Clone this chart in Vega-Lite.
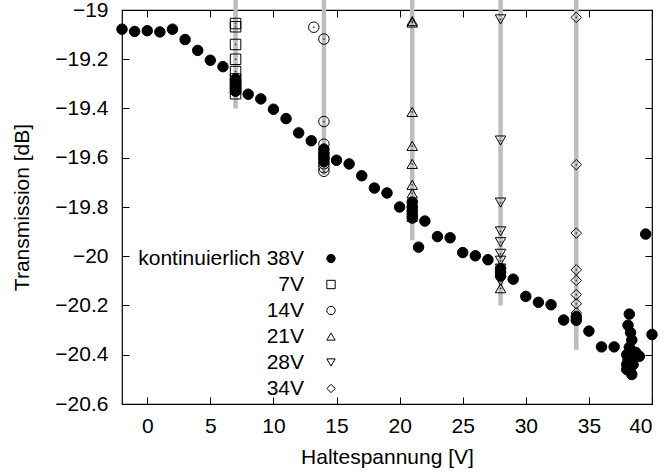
{
  "$schema": "https://vega.github.io/schema/vega-lite/v6.json",
  "width": 530,
  "height": 394,
  "autosize": "none",
  "padding": {"left": 122, "top": 10, "right": 14, "bottom": 72},
  "background": "white",
  "config": {
    "view": {"stroke": "black", "strokeWidth": 1.2},
    "font": "Liberation Sans",
    "axis": {"grid": false, "domain": false, "tickColor": "black", "tickWidth": 1, "labelColor": "black", "titleColor": "black", "labelFontSize": 21, "titleFontSize": 21, "titleFontWeight": "normal", "labelFont": "Liberation Sans", "titleFont": "Liberation Sans"},
    "legend": {"labelLimit": 0}
  },
  "datasets": {
    "bars": [
      {"s": "7V", "x": 7, "y1": -18.95, "y2": -19.40},
      {"s": "14V", "x": 14, "y1": -18.95, "y2": -19.67},
      {"s": "21V", "x": 21, "y1": -18.95, "y2": -19.935},
      {"s": "28V", "x": 28, "y1": -18.95, "y2": -20.2},
      {"s": "34V", "x": 34, "y1": -18.95, "y2": -20.38}
    ],
    "pts": [
      {"s": "kontinuierlich 38V", "x": -2, "y": -19.078},
      {"s": "kontinuierlich 38V", "x": -1, "y": -19.087},
      {"s": "kontinuierlich 38V", "x": 0, "y": -19.084},
      {"s": "kontinuierlich 38V", "x": 1, "y": -19.089},
      {"s": "kontinuierlich 38V", "x": 2, "y": -19.078},
      {"s": "kontinuierlich 38V", "x": 3, "y": -19.12},
      {"s": "kontinuierlich 38V", "x": 4, "y": -19.164},
      {"s": "kontinuierlich 38V", "x": 5, "y": -19.204},
      {"s": "kontinuierlich 38V", "x": 6, "y": -19.23},
      {"s": "kontinuierlich 38V", "x": 7, "y": -19.28},
      {"s": "kontinuierlich 38V", "x": 7, "y": -19.30},
      {"s": "kontinuierlich 38V", "x": 7, "y": -19.315},
      {"s": "kontinuierlich 38V", "x": 7, "y": -19.33},
      {"s": "kontinuierlich 38V", "x": 8, "y": -19.342},
      {"s": "kontinuierlich 38V", "x": 9, "y": -19.361},
      {"s": "kontinuierlich 38V", "x": 10, "y": -19.403},
      {"s": "kontinuierlich 38V", "x": 11, "y": -19.441},
      {"s": "kontinuierlich 38V", "x": 12, "y": -19.499},
      {"s": "kontinuierlich 38V", "x": 13, "y": -19.531},
      {"s": "kontinuierlich 38V", "x": 14, "y": -19.565},
      {"s": "kontinuierlich 38V", "x": 14, "y": -19.585},
      {"s": "kontinuierlich 38V", "x": 14, "y": -19.60},
      {"s": "kontinuierlich 38V", "x": 14, "y": -19.615},
      {"s": "kontinuierlich 38V", "x": 15, "y": -19.61},
      {"s": "kontinuierlich 38V", "x": 16, "y": -19.625},
      {"s": "kontinuierlich 38V", "x": 17, "y": -19.673},
      {"s": "kontinuierlich 38V", "x": 18, "y": -19.723},
      {"s": "kontinuierlich 38V", "x": 19, "y": -19.743},
      {"s": "kontinuierlich 38V", "x": 20, "y": -19.80},
      {"s": "kontinuierlich 38V", "x": 21, "y": -19.78},
      {"s": "kontinuierlich 38V", "x": 21, "y": -19.80},
      {"s": "kontinuierlich 38V", "x": 21, "y": -19.815},
      {"s": "kontinuierlich 38V", "x": 21, "y": -19.83},
      {"s": "kontinuierlich 38V", "x": 21, "y": -19.845},
      {"s": "kontinuierlich 38V", "x": 21.5, "y": -19.963},
      {"s": "kontinuierlich 38V", "x": 22, "y": -19.857},
      {"s": "kontinuierlich 38V", "x": 23, "y": -19.92},
      {"s": "kontinuierlich 38V", "x": 24, "y": -19.925},
      {"s": "kontinuierlich 38V", "x": 25, "y": -19.985},
      {"s": "kontinuierlich 38V", "x": 26, "y": -19.998},
      {"s": "kontinuierlich 38V", "x": 27, "y": -20.014},
      {"s": "kontinuierlich 38V", "x": 28, "y": -20.05},
      {"s": "kontinuierlich 38V", "x": 28, "y": -20.065},
      {"s": "kontinuierlich 38V", "x": 28, "y": -20.08},
      {"s": "kontinuierlich 38V", "x": 29, "y": -20.093},
      {"s": "kontinuierlich 38V", "x": 30, "y": -20.163},
      {"s": "kontinuierlich 38V", "x": 31, "y": -20.187},
      {"s": "kontinuierlich 38V", "x": 32, "y": -20.197},
      {"s": "kontinuierlich 38V", "x": 33, "y": -20.259},
      {"s": "kontinuierlich 38V", "x": 34, "y": -20.245},
      {"s": "kontinuierlich 38V", "x": 34, "y": -20.26},
      {"s": "kontinuierlich 38V", "x": 35, "y": -20.304},
      {"s": "kontinuierlich 38V", "x": 36, "y": -20.368},
      {"s": "kontinuierlich 38V", "x": 37, "y": -20.368},
      {"s": "kontinuierlich 38V", "x": 38.2, "y": -20.235},
      {"s": "kontinuierlich 38V", "x": 38.1, "y": -20.28},
      {"s": "kontinuierlich 38V", "x": 38.3, "y": -20.31},
      {"s": "kontinuierlich 38V", "x": 38.4, "y": -20.34},
      {"s": "kontinuierlich 38V", "x": 38.2, "y": -20.37},
      {"s": "kontinuierlich 38V", "x": 38.0, "y": -20.40},
      {"s": "kontinuierlich 38V", "x": 38.3, "y": -20.40},
      {"s": "kontinuierlich 38V", "x": 38.6, "y": -20.40},
      {"s": "kontinuierlich 38V", "x": 38.7, "y": -20.39},
      {"s": "kontinuierlich 38V", "x": 38.5, "y": -20.41},
      {"s": "kontinuierlich 38V", "x": 38.1, "y": -20.42},
      {"s": "kontinuierlich 38V", "x": 38.4, "y": -20.43},
      {"s": "kontinuierlich 38V", "x": 38.0, "y": -20.44},
      {"s": "kontinuierlich 38V", "x": 38.5, "y": -20.44},
      {"s": "kontinuierlich 38V", "x": 38.2, "y": -20.45},
      {"s": "kontinuierlich 38V", "x": 38.0, "y": -20.46},
      {"s": "kontinuierlich 38V", "x": 38.2, "y": -20.46},
      {"s": "kontinuierlich 38V", "x": 38.3, "y": -20.47},
      {"s": "kontinuierlich 38V", "x": 38.4, "y": -20.48},
      {"s": "kontinuierlich 38V", "x": 39, "y": -20.406},
      {"s": "kontinuierlich 38V", "x": 39.5, "y": -19.91},
      {"s": "kontinuierlich 38V", "x": 40, "y": -20.318},
      {"s": "7V", "x": 7, "y": -19.055},
      {"s": "7V", "x": 7, "y": -19.068},
      {"s": "7V", "x": 7, "y": -19.14},
      {"s": "7V", "x": 7, "y": -19.20},
      {"s": "7V", "x": 7, "y": -19.25},
      {"s": "7V", "x": 7, "y": -19.28},
      {"s": "7V", "x": 7, "y": -19.30},
      {"s": "7V", "x": 7, "y": -19.32},
      {"s": "7V", "x": 7, "y": -19.34},
      {"s": "14V", "x": 13.2, "y": -19.07},
      {"s": "14V", "x": 14, "y": -19.118},
      {"s": "14V", "x": 14, "y": -19.453},
      {"s": "14V", "x": 14, "y": -19.545},
      {"s": "14V", "x": 14, "y": -19.58},
      {"s": "14V", "x": 14, "y": -19.60},
      {"s": "14V", "x": 14, "y": -19.625},
      {"s": "14V", "x": 14, "y": -19.64},
      {"s": "14V", "x": 14, "y": -19.655},
      {"s": "21V", "x": 21, "y": -19.045},
      {"s": "21V", "x": 21, "y": -19.051},
      {"s": "21V", "x": 21, "y": -19.414},
      {"s": "21V", "x": 21, "y": -19.552},
      {"s": "21V", "x": 21, "y": -19.625},
      {"s": "21V", "x": 21, "y": -19.71},
      {"s": "21V", "x": 21, "y": -19.745},
      {"s": "21V", "x": 21, "y": -19.78},
      {"s": "21V", "x": 21, "y": -19.80},
      {"s": "21V", "x": 21, "y": -19.82},
      {"s": "21V", "x": 21, "y": -19.84},
      {"s": "21V", "x": 28, "y": -20.13},
      {"s": "28V", "x": 28, "y": -19.038},
      {"s": "28V", "x": 28, "y": -19.53},
      {"s": "28V", "x": 28, "y": -19.782},
      {"s": "28V", "x": 28, "y": -19.899},
      {"s": "28V", "x": 28, "y": -19.943},
      {"s": "28V", "x": 28, "y": -19.99},
      {"s": "28V", "x": 28, "y": -20.018},
      {"s": "28V", "x": 28, "y": -20.05},
      {"s": "28V", "x": 28, "y": -20.07},
      {"s": "28V", "x": 28, "y": -20.10},
      {"s": "34V", "x": 34, "y": -19.03},
      {"s": "34V", "x": 34, "y": -19.628},
      {"s": "34V", "x": 34, "y": -19.906},
      {"s": "34V", "x": 34, "y": -20.055},
      {"s": "34V", "x": 34, "y": -20.098},
      {"s": "34V", "x": 34, "y": -20.156},
      {"s": "34V", "x": 34, "y": -20.193},
      {"s": "34V", "x": 34, "y": -20.23}
    ]
  },
  "resolve": {"axis": {"x": "independent", "y": "independent"}},
  "layer": [
    {
      "data": {"name": "bars"},
      "mark": {"type": "rule", "color": "#bdbdbd", "strokeWidth": 4.5},
      "encoding": {
        "x": {"field": "x", "type": "quantitative", "scale": {"domain": [-2, 40], "nice": false, "zero": false},
              "axis": {"orient": "top", "labels": false, "title": null, "values": [0, 5, 10, 15, 20, 25, 30, 35, 40], "tickSize": -7}},
        "y": {"field": "y1", "type": "quantitative", "scale": {"domain": [-20.6, -19], "nice": false, "zero": false},
              "axis": {"orient": "right", "labels": false, "title": null, "values": [-20.6, -20.4, -20.2, -20, -19.8, -19.6, -19.4, -19.2, -19], "tickSize": -7}},
        "y2": {"field": "y2"}
      }
    },
    {
      "data": {"name": "pts"},
      "mark": {"type": "point", "filled": false, "color": "black", "strokeWidth": 1, "size": 110, "opacity": 1},
      "encoding": {
        "x": {"field": "x", "type": "quantitative",
              "axis": {"orient": "bottom", "title": "Haltespannung [V]", "values": [0, 5, 10, 15, 20, 25, 30, 35, 40], "format": "d", "tickSize": -7, "labelPadding": 18, "titlePadding": 10}},
        "y": {"field": "y", "type": "quantitative",
              "axis": {"orient": "left", "title": "Transmission [dB]", "values": [-20.6, -20.4, -20.2, -20, -19.8, -19.6, -19.4, -19.2, -19], "format": ".1~f", "tickSize": -7, "labelPadding": 21, "titlePadding": 22}},
        "shape": {"field": "s", "type": "nominal",
                  "scale": {"domain": ["kontinuierlich 38V", "7V", "14V", "21V", "28V", "34V"], "range": ["circle", "square", "circle", "triangle-up", "triangle-down", "diamond"]},
                  "legend": {"title": null, "orient": "none", "legendX": 198.5, "legendY": 238, "padding": 0, "direction": "vertical",
                             "labelAlign": "right", "labelOffset": -37.5, "labelFontSize": 21, "labelColor": "black", "labelFont": "Liberation Sans", "labelLimit": 0,
                             "symbolSize": 70, "symbolStrokeWidth": 1, "rowPadding": 4}},
        "fill": {"field": "s", "type": "nominal",
                 "scale": {"domain": ["kontinuierlich 38V", "7V", "14V", "21V", "28V", "34V"], "range": ["black", "transparent", "transparent", "transparent", "transparent", "transparent"]},
                 "legend": {"title": null, "orient": "none", "legendX": 198.5, "legendY": 238, "padding": 0, "direction": "vertical",
                             "labelAlign": "right", "labelOffset": -37.5, "labelFontSize": 21, "labelColor": "black", "labelFont": "Liberation Sans", "labelLimit": 0,
                             "symbolSize": 70, "symbolStrokeWidth": 1, "rowPadding": 4}}
      }
    },
    {
      "data": {"name": "pts"},
      "transform": [{"filter": "datum.s !== 'kontinuierlich 38V'"}],
      "mark": {"type": "point", "filled": true, "color": "black", "size": 3, "shape": "circle"},
      "encoding": {
        "x": {"field": "x", "type": "quantitative", "axis": null},
        "y": {"field": "y", "type": "quantitative", "axis": null}
      }
    }
  ]
}
